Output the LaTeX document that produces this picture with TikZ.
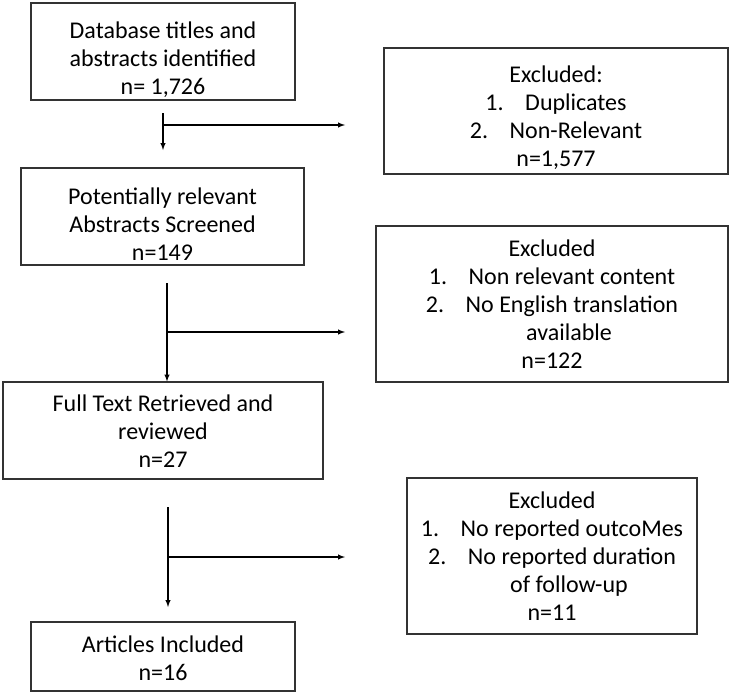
\documentclass[tikz,border=0pt]{standalone}
\usepackage{fontspec}
\setmainfont{Carlito}
\usetikzlibrary{arrows}
\newcommand{\tdrop}[1]{\rule{0pt}{#1}}

\begin{document}
\begin{tikzpicture}[x=1pt,y=-1pt,>=latex,
    stage/.style={draw=black!80,line width=1.1pt,align=center,inner sep=0pt,
      font=\fontsize{24}{28}\selectfont},
    excl/.style={stage},
    flow/.style={line width=1.4pt}]
    \useasboundingbox (0,0) rectangle (733,693);
    % main column
    \node[stage,minimum width=264pt,minimum height=97pt] (db) at (163,51.5)
      {\tdrop{33pt}Database titles and\\abstracts identified\\n= 1,726};
    \node[stage,minimum width=283pt,minimum height=97pt] (scr) at (162.5,216.5)
      {\tdrop{31pt}Potentially relevant\\Abstracts Screened\\n=149};
    \node[stage,minimum width=320pt,minimum height=97pt] (full) at (163,430.5)
      {\tdrop{17pt}Full Text Retrieved and\\reviewed\\n=27};
    \node[stage,minimum width=264pt,minimum height=69pt] (incl) at (163,656.5)
      {\tdrop{21pt}Articles Included\\n=16};
    % excluded boxes
    \node[excl,minimum width=344pt,minimum height=126pt] (exA) at (556,111)
      {\tdrop{31pt}Excluded:\\1.\hspace{0.9em}Duplicates\\2.\hspace{0.9em}Non-Relevant\\n=1,577};
    \node[excl,minimum width=352pt,minimum height=156pt] (exB) at (552,304)
      {Excluded\\1.\hspace{0.9em}Non relevant content\\2.\hspace{0.9em}No English translation\\
       \hspace*{34pt}available\\n=122};
    \node[excl,minimum width=290pt,minimum height=156pt] (exC) at (552,556)
      {Excluded\\1.\hspace{0.9em}No reported outcoMes\\2.\hspace{0.9em}No reported duration\\
       \hspace*{34pt}of follow-up\\n=11};
    % connectors
    \coordinate (a1) at (163,113);  \coordinate (b1) at (163,150);
    \coordinate (c1) at (163,125);  \coordinate (d1) at (345,125);
    \coordinate (a2) at (167,283);  \coordinate (b2) at (167,381.5);
    \coordinate (c2) at (167,332);  \coordinate (d2) at (345,332);
    \coordinate (a3) at (168,507);  \coordinate (b3) at (168,607);
    \coordinate (c3) at (168,557);  \coordinate (d3) at (345,557);
    \draw[flow,->] (a1) -- (b1);
    \draw[flow,->] (c1) -- (d1);
    \draw[flow,->] (a2) -- (b2);
    \draw[flow,->] (c2) -- (d2);
    \draw[flow,->] (a3) -- (b3);
    \draw[flow,->] (c3) -- (d3);
\end{tikzpicture}
\end{document}
